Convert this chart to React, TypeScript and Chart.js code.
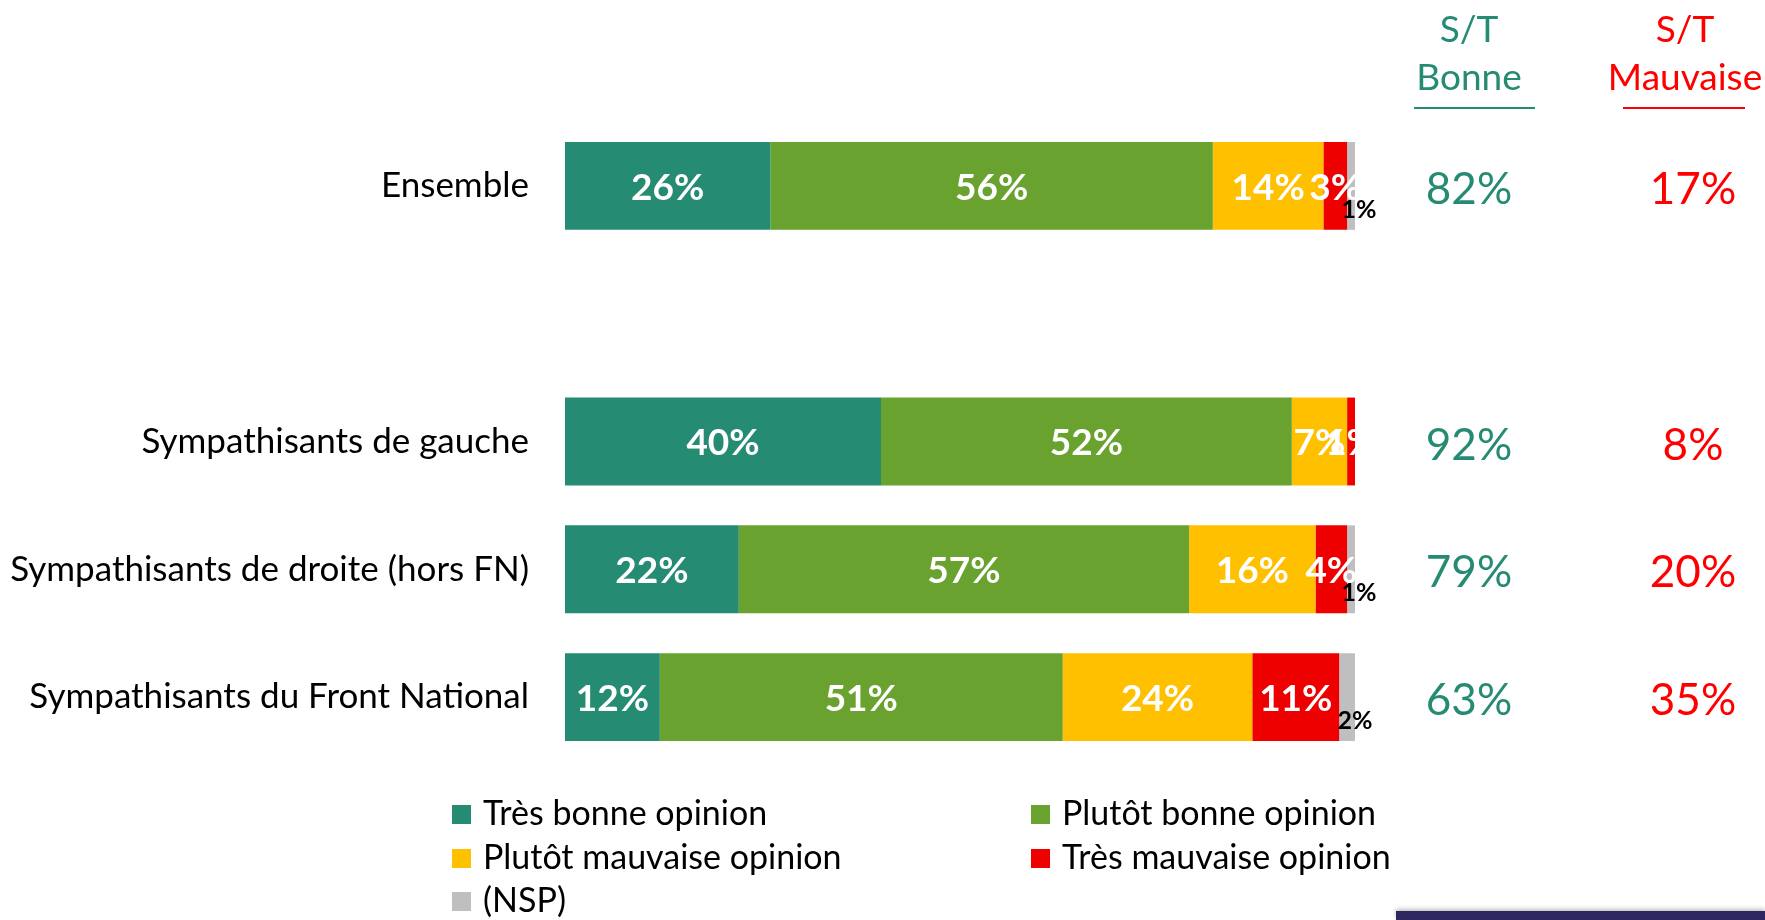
import React, { useEffect, useRef } from 'react';
import { Chart, registerables } from 'chart.js';
Chart.register(...registerables);

const categories = [
  'Ensemble',
  '',
  'Sympathisants de gauche',
  'Sympathisants de droite (hors FN)',
  'Sympathisants du Front National',
];
const tresBonne = [26, null, 40, 22, 12];
const plutotBonne = [56, null, 52, 57, 51];
const plutotMauvaise = [14, null, 7, 16, 24];
const tresMauvaise = [3, null, 1, 4, 11];
const nsp = [1, null, 0, 1, 2];
const stBonne = [82, null, 92, 79, 63];
const stMauvaise = [17, null, 8, 20, 35];
const seriesNames = [
  'Très bonne opinion',
  'Plutôt bonne opinion',
  'Plutôt mauvaise opinion',
  'Très mauvaise opinion',
  '(NSP)',
];
const seriesColors = ['#268B73', '#69A22F', '#FFC000', '#EE0000', '#BFBFBF'];
const headerBonne = ['S/T', 'Bonne'];
const headerMauvaise = ['S/T', 'Mauvaise'];

const FONT = 'Lato, "Noto Sans", sans-serif';
const GREEN_TXT = '#268B73';
const RED_TXT = '#FF0000';

const overlayPlugin = {
  id: 'overlay',
  afterDatasetsDraw(chart: any) {
    const ctx = chart.ctx;
    ctx.save();
    chart.data.datasets.forEach((ds: any, di: number) => {
      const meta = chart.getDatasetMeta(di);
      meta.data.forEach((el: any, i: number) => {
        const v = ds.data[i];
        if (v === null || v === undefined || v <= 0) return;
        const cx = (el.x + el.base) / 2;
        const cy = el.y;
        ctx.textAlign = 'center';
        ctx.textBaseline = 'middle';
        if (di === 4) {
          ctx.fillStyle = '#000000';
          ctx.font = `bold 25px ${FONT}`;
          ctx.fillText(v + '%', cx + 8, cy + 24);
        } else {
          ctx.fillStyle = '#FFFFFF';
          ctx.font = `bold 37px ${FONT}`;
          ctx.fillText(v + '%', cx, cy + 2);
        }
      });
    });

    // Side columns
    const yScale = chart.scales.y;
    const colB = 1469;
    const colM = 1693;
    ctx.textAlign = 'center';
    ctx.textBaseline = 'middle';
    ctx.font = `37px ${FONT}`;
    ctx.fillStyle = GREEN_TXT;
    ctx.fillText(headerBonne[0], colB, 30);
    ctx.fillText(headerBonne[1], colB, 78);
    ctx.fillStyle = RED_TXT;
    ctx.fillText(headerMauvaise[0], 1685, 30);
    ctx.fillText(headerMauvaise[1], 1685, 78);
    ctx.lineWidth = 2;
    ctx.strokeStyle = GREEN_TXT;
    ctx.beginPath();
    ctx.moveTo(1414, 108);
    ctx.lineTo(1535, 108);
    ctx.stroke();
    ctx.strokeStyle = RED_TXT;
    ctx.beginPath();
    ctx.moveTo(1623, 108);
    ctx.lineTo(1745, 108);
    ctx.stroke();

    ctx.font = `44px ${FONT}`;
    categories.forEach((_, i) => {
      const y = yScale.getPixelForValue(i) + 4;
      if (stBonne[i] !== null) {
        ctx.fillStyle = GREEN_TXT;
        ctx.fillText(stBonne[i] + '%', colB, y);
      }
      if (stMauvaise[i] !== null) {
        ctx.fillStyle = RED_TXT;
        ctx.fillText(stMauvaise[i] + '%', colM, y);
      }
    });

    // Legend
    const cols = [452, 1031];
    const rows = [814, 858, 901];
    ctx.font = `34px ${FONT}`;
    ctx.textAlign = 'left';
    seriesNames.forEach((name, i) => {
      const x = cols[i % 2];
      const y = rows[Math.floor(i / 2)];
      ctx.fillStyle = seriesColors[i];
      ctx.fillRect(x, y - 9, 19, 19);
      ctx.fillStyle = '#000000';
      ctx.fillText(name, x + 31, y);
    });
    ctx.restore();
  },
};

export default function App() {
  const ref = useRef<HTMLCanvasElement>(null);
  useEffect(() => {
    const series = [tresBonne, plutotBonne, plutotMauvaise, tresMauvaise, nsp];
    const chart = new Chart(ref.current as HTMLCanvasElement, {
      type: 'bar',
      data: {
        labels: categories,
        datasets: series.map((d, i) => ({
          label: seriesNames[i],
          data: d,
          backgroundColor: seriesColors[i],
          borderWidth: 0,
          barPercentage: 0.6875,
          categoryPercentage: 1,
        })),
      },
      options: {
        indexAxis: 'y',
        animation: false,
        responsive: false,
        maintainAspectRatio: false,
        layout: { padding: { left: 0, right: 410, top: 122, bottom: 159 } },
        plugins: { legend: { display: false }, tooltip: { enabled: false } },
        scales: {
          x: { stacked: true, min: 0, max: 100, display: false },
          y: {
            stacked: true,
            grid: { display: false, drawTicks: false },
            border: { display: false },
            ticks: {
              padding: 36,
              color: '#000000',
              font: { family: FONT, size: 35 },
            },
            afterFit: (scale: any) => {
              scale.width = 565;
            },
          },
        },
      },
      plugins: [overlayPlugin],
    });
    return () => chart.destroy();
  }, []);
  return (
    <div style={{ position: 'absolute', left: 0, top: 0, width: 1765, height: 920, background: '#fff', overflow: 'hidden' }}>
      <canvas ref={ref} width={1765} height={920} style={{ display: 'block' }} />
      <div style={{ position: 'absolute', left: 1396, top: 911, width: 369, height: 9, background: '#2F2860', boxShadow: '0 -2px 4px rgba(0,0,0,0.25)' }} />
    </div>
  );
}
